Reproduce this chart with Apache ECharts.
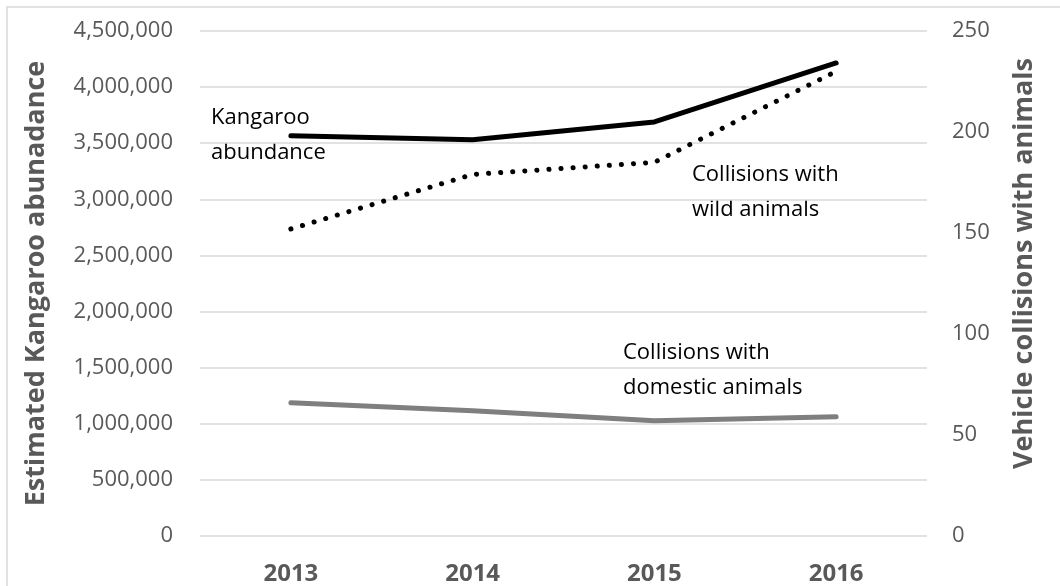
<!DOCTYPE html>
<html>
<head>
<meta charset="utf-8">
<script src="https://cdn.jsdelivr.net/npm/echarts@6/dist/echarts.min.js"></script>
<style>
  html, body { margin: 0; padding: 0; background: #fff; }
  #chart { width: 1060px; height: 586px; }
</style>
</head>
<body>
<div id="chart"></div>
<script>
// data
const years = ['2013', '2014', '2015', '2016'];
const kangaroo = [3566000, 3531000, 3690000, 4215000];
const wildCollisions = [152, 179, 185, 230];
const domesticCollisions = [66, 62, 57, 59];
const leftTicks = { min: 0, max: 4500000, interval: 500000 };
const rightTicks = { min: 0, max: 250, interval: 50 };

const FONT = '"Open Sans", "Noto Sans", sans-serif';
const GREY = '#595959';

const myChart = echarts.init(document.getElementById('chart'));

function note (text, x, y) {
  return {
    type: 'text',
    left: x,
    top: y,
    style: {
      text: text,
      font: '22px ' + FONT,
      lineHeight: 35,
      fill: '#000'
    }
  };
}

myChart.setOption({
  animation: false,
  backgroundColor: '#fff',
  grid: { left: 200, right: 133, top: 31, bottom: 49 },
  xAxis: {
    type: 'category',
    data: years,
    boundaryGap: true,
    axisLine: { show: false },
    axisTick: { show: false },
    axisLabel: {
      color: GREY,
      fontFamily: FONT,
      fontSize: 24,
      fontWeight: 'bold',
      margin: 26
    }
  },
  yAxis: [
    {
      type: 'value',
      min: leftTicks.min,
      max: leftTicks.max,
      interval: leftTicks.interval,
      name: 'Estimated Kangaroo abunadance',
      nameLocation: 'middle',
      nameGap: 150,
      nameTextStyle: { color: GREY, fontFamily: FONT, fontSize: 27, fontWeight: 'bold' },
      axisLine: { show: false },
      axisTick: { show: false },
      axisLabel: {
        color: GREY,
        fontFamily: FONT,
        fontSize: 22,
        margin: 27,
        formatter: (v) => v.toLocaleString('en-US')
      },
      splitLine: { lineStyle: { color: '#d9d9d9', width: 1.5 } }
    },
    {
      type: 'value',
      min: rightTicks.min,
      max: rightTicks.max,
      interval: rightTicks.interval,
      position: 'right',
      name: 'Vehicle collisions with animals',
      nameLocation: 'middle',
      nameGap: 84,
      nameRotate: 90,
      nameTextStyle: {
        color: GREY,
        fontFamily: FONT,
        fontSize: 27,
        fontWeight: 'bold',
        padding: [0, 0, 0, 40]
      },
      axisLine: { show: false },
      axisTick: { show: false },
      axisLabel: { color: GREY, fontFamily: FONT, fontSize: 22, margin: 25 },
      splitLine: { show: false }
    }
  ],
  series: [
    {
      name: 'Kangaroo abundance',
      type: 'line',
      yAxisIndex: 0,
      data: kangaroo,
      showSymbol: false,
      lineStyle: { color: '#000', width: 5, cap: 'round', join: 'round' }
    },
    {
      name: 'Collisions with wild animals',
      type: 'line',
      yAxisIndex: 1,
      data: wildCollisions,
      showSymbol: false,
      lineStyle: { color: '#000', width: 5, type: [0.1, 12], cap: 'round' }
    },
    {
      name: 'Collisions with domestic animals',
      type: 'line',
      yAxisIndex: 1,
      data: domesticCollisions,
      showSymbol: false,
      lineStyle: { color: '#7f7f7f', width: 5, cap: 'round', join: 'round' }
    }
  ],
  graphic: [
    {
      type: 'rect',
      shape: { x: 7, y: 7, width: 1100, height: 640 },
      style: { fill: 'none', stroke: '#d9d9d9', lineWidth: 1.5 },
      silent: true
    },
    note('Kangaroo\nabundance', 211, 100),
    note('Collisions with\nwild animals', 692, 157),
    note('Collisions with\ndomestic animals', 623, 335)
  ]
});
</script>
</body>
</html>
